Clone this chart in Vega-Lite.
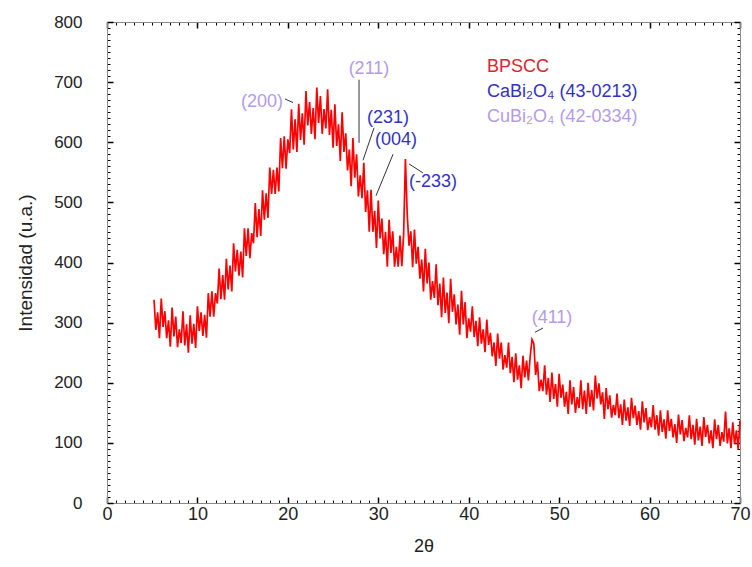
{
"$schema": "https://vega.github.io/schema/vega-lite/v6.json",
"width": 633, "height": 481,
"autosize": {"type": "none"},
"padding": {"left": 107, "top": 22, "right": 12, "bottom": 64},
"background": "white",
"config": {"view": {"stroke": "#000", "strokeWidth": 1}},
"datasets": {
"xrd": [
{"t":5.2,"i":338},{"t":5.4,"i":288},{"t":5.6,"i":317},{"t":5.8,"i":274},{"t":6.0,"i":340},{"t":6.2,"i":293},{"t":6.4,"i":319},{"t":6.6,"i":274},{"t":6.8,"i":304},{"t":7.0,"i":260},
{"t":7.2,"i":325},{"t":7.4,"i":277},{"t":7.6,"i":310},{"t":7.8,"i":259},{"t":8.0,"i":289},{"t":8.2,"i":266},{"t":8.4,"i":319},{"t":8.6,"i":262},{"t":8.8,"i":297},{"t":9.0,"i":250},
{"t":9.2,"i":312},{"t":9.4,"i":265},{"t":9.6,"i":298},{"t":9.8,"i":258},{"t":10.0,"i":327},{"t":10.2,"i":286},{"t":10.4,"i":317},{"t":10.6,"i":278},{"t":10.8,"i":313},{"t":11.0,"i":275},
{"t":11.2,"i":349},{"t":11.4,"i":310},{"t":11.6,"i":352},{"t":11.8,"i":310},{"t":12.0,"i":349},{"t":12.2,"i":332},{"t":12.4,"i":390},{"t":12.6,"i":339},{"t":12.8,"i":379},{"t":13.0,"i":338},
{"t":13.2,"i":406},{"t":13.4,"i":355},{"t":13.6,"i":395},{"t":13.8,"i":352},{"t":14.0,"i":432},{"t":14.2,"i":385},{"t":14.4,"i":421},{"t":14.6,"i":378},{"t":14.8,"i":418},{"t":15.0,"i":375},
{"t":15.2,"i":457},{"t":15.4,"i":411},{"t":15.6,"i":457},{"t":15.8,"i":407},{"t":16.0,"i":449},{"t":16.2,"i":432},{"t":16.4,"i":499},{"t":16.6,"i":442},{"t":16.8,"i":489},{"t":17.0,"i":444},
{"t":17.2,"i":520},{"t":17.4,"i":471},{"t":17.6,"i":515},{"t":17.8,"i":474},{"t":18.0,"i":558},{"t":18.2,"i":514},{"t":18.4,"i":554},{"t":18.6,"i":514},{"t":18.8,"i":558},{"t":19.0,"i":518},
{"t":19.2,"i":607},{"t":19.4,"i":557},{"t":19.6,"i":610},{"t":19.8,"i":556},{"t":20.0,"i":605},{"t":20.2,"i":582},{"t":20.4,"i":655},{"t":20.6,"i":588},{"t":20.8,"i":638},{"t":21.0,"i":584},
{"t":21.2,"i":664},{"t":21.4,"i":604},{"t":21.6,"i":648},{"t":21.8,"i":596},{"t":22.0,"i":685},{"t":22.2,"i":628},{"t":22.4,"i":667},{"t":22.6,"i":614},{"t":22.8,"i":657},{"t":23.0,"i":605},
{"t":23.2,"i":691},{"t":23.4,"i":632},{"t":23.6,"i":677},{"t":23.8,"i":614},{"t":24.0,"i":655},{"t":24.2,"i":623},{"t":24.4,"i":688},{"t":24.6,"i":612},{"t":24.8,"i":654},{"t":25.0,"i":591},
{"t":25.2,"i":663},{"t":25.4,"i":594},{"t":25.6,"i":630},{"t":25.8,"i":569},{"t":26.0,"i":650},{"t":26.2,"i":584},{"t":26.4,"i":615},{"t":26.6,"i":553},{"t":26.8,"i":588},{"t":27.0,"i":527},
{"t":27.2,"i":607},{"t":27.4,"i":541},{"t":27.6,"i":580},{"t":27.8,"i":510},{"t":28.0,"i":545},{"t":28.2,"i":507},{"t":28.4,"i":566},{"t":28.6,"i":484},{"t":28.8,"i":520},{"t":29.0,"i":451},
{"t":29.2,"i":521},{"t":29.4,"i":451},{"t":29.6,"i":486},{"t":29.8,"i":424},{"t":30.0,"i":503},{"t":30.2,"i":440},{"t":30.4,"i":473},{"t":30.6,"i":414},{"t":30.8,"i":451},{"t":31.0,"i":393},
{"t":31.2,"i":471},{"t":31.4,"i":416},{"t":31.6,"i":452},{"t":31.8,"i":393},{"t":32.0,"i":426},{"t":32.2,"i":393},{"t":32.4,"i":445},{"t":32.6,"i":394},{"t":32.8,"i":446},{"t":33.0,"i":572},
{"t":33.2,"i":480},{"t":33.4,"i":428},{"t":33.6,"i":452},{"t":33.8,"i":392},{"t":34.0,"i":455},{"t":34.2,"i":398},{"t":34.4,"i":426},{"t":34.6,"i":373},{"t":34.8,"i":405},{"t":35.0,"i":352},
{"t":35.2,"i":423},{"t":35.4,"i":365},{"t":35.6,"i":400},{"t":35.8,"i":338},{"t":36.0,"i":369},{"t":36.2,"i":341},{"t":36.4,"i":397},{"t":36.6,"i":329},{"t":36.8,"i":365},{"t":37.0,"i":309},
{"t":37.2,"i":375},{"t":37.4,"i":316},{"t":37.6,"i":350},{"t":37.8,"i":299},{"t":38.0,"i":373},{"t":38.2,"i":318},{"t":38.4,"i":347},{"t":38.6,"i":297},{"t":38.8,"i":330},{"t":39.0,"i":280},
{"t":39.2,"i":353},{"t":39.4,"i":297},{"t":39.6,"i":334},{"t":39.8,"i":274},{"t":40.0,"i":307},{"t":40.2,"i":285},{"t":40.4,"i":327},{"t":40.6,"i":276},{"t":40.8,"i":303},{"t":41.0,"i":261},
{"t":41.2,"i":309},{"t":41.4,"i":265},{"t":41.6,"i":289},{"t":41.8,"i":251},{"t":42.0,"i":305},{"t":42.2,"i":263},{"t":42.4,"i":283},{"t":42.6,"i":244},{"t":42.8,"i":267},{"t":43.0,"i":228},
{"t":43.2,"i":282},{"t":43.4,"i":240},{"t":43.6,"i":267},{"t":43.8,"i":222},{"t":44.0,"i":246},{"t":44.2,"i":225},{"t":44.4,"i":267},{"t":44.6,"i":216},{"t":44.8,"i":243},{"t":45.0,"i":201},
{"t":45.2,"i":249},{"t":45.4,"i":205},{"t":45.6,"i":229},{"t":45.8,"i":191},{"t":46.0,"i":245},{"t":46.2,"i":209},{"t":46.4,"i":237},{"t":46.6,"i":204},{"t":46.8,"i":244},{"t":47.0,"i":272},
{"t":47.2,"i":265},{"t":47.4,"i":213},{"t":47.6,"i":235},{"t":47.8,"i":186},{"t":48.0,"i":205},{"t":48.2,"i":186},{"t":48.4,"i":229},{"t":48.6,"i":180},{"t":48.8,"i":208},{"t":49.0,"i":168},
{"t":49.2,"i":217},{"t":49.4,"i":173},{"t":49.6,"i":198},{"t":49.8,"i":160},{"t":50.0,"i":215},{"t":50.2,"i":175},{"t":50.4,"i":197},{"t":50.6,"i":160},{"t":50.8,"i":185},{"t":51.0,"i":148},
{"t":51.2,"i":204},{"t":51.4,"i":164},{"t":51.6,"i":193},{"t":51.8,"i":150},{"t":52.0,"i":176},{"t":52.2,"i":158},{"t":52.4,"i":204},{"t":52.6,"i":156},{"t":52.8,"i":187},{"t":53.0,"i":148},
{"t":53.2,"i":200},{"t":53.4,"i":160},{"t":53.6,"i":188},{"t":53.8,"i":154},{"t":54.0,"i":212},{"t":54.2,"i":174},{"t":54.4,"i":199},{"t":54.6,"i":164},{"t":54.8,"i":184},{"t":55.0,"i":140},
{"t":55.2,"i":191},{"t":55.4,"i":156},{"t":55.6,"i":179},{"t":55.8,"i":142},{"t":56.0,"i":163},{"t":56.2,"i":146},{"t":56.4,"i":182},{"t":56.6,"i":141},{"t":56.8,"i":164},{"t":57.0,"i":130},
{"t":57.2,"i":172},{"t":57.4,"i":137},{"t":57.6,"i":159},{"t":57.8,"i":128},{"t":58.0,"i":175},{"t":58.2,"i":141},{"t":58.4,"i":162},{"t":58.6,"i":130},{"t":58.8,"i":153},{"t":59.0,"i":122},
{"t":59.2,"i":169},{"t":59.4,"i":134},{"t":59.6,"i":158},{"t":59.8,"i":121},{"t":60.0,"i":143},{"t":60.2,"i":126},{"t":60.4,"i":163},{"t":60.6,"i":122},{"t":60.8,"i":146},{"t":61.0,"i":112},
{"t":61.2,"i":154},{"t":61.4,"i":118},{"t":61.6,"i":139},{"t":61.8,"i":107},{"t":62.0,"i":154},{"t":62.2,"i":120},{"t":62.4,"i":140},{"t":62.6,"i":109},{"t":62.8,"i":131},{"t":63.0,"i":100},
{"t":63.2,"i":147},{"t":63.4,"i":114},{"t":63.6,"i":138},{"t":63.8,"i":103},{"t":64.0,"i":125},{"t":64.2,"i":109},{"t":64.4,"i":146},{"t":64.6,"i":106},{"t":64.8,"i":130},{"t":65.0,"i":97},
{"t":65.2,"i":140},{"t":65.4,"i":104},{"t":65.6,"i":127},{"t":65.8,"i":95},{"t":66.0,"i":143},{"t":66.2,"i":110},{"t":66.4,"i":130},{"t":66.6,"i":99},{"t":66.8,"i":121},{"t":67.0,"i":91},
{"t":67.2,"i":139},{"t":67.4,"i":106},{"t":67.6,"i":130},{"t":67.8,"i":95},{"t":68.0,"i":118},{"t":68.2,"i":102},{"t":68.4,"i":152},{"t":68.6,"i":99},{"t":68.8,"i":124},{"t":69.0,"i":91},
{"t":69.2,"i":134},{"t":69.4,"i":98},{"t":69.6,"i":121},{"t":69.8,"i":89},{"t":70.0,"i":137}
],
"ann": [
{"lbl":"(200)","t":17.14,"i":667,"c":"CuBi2O4"},
{"lbl":"(211)","t":28.97,"i":721,"c":"CuBi2O4"},
{"lbl":"(231)","t":31.07,"i":640,"c":"CaBi2O4"},
{"lbl":"(004)","t":31.96,"i":604,"c":"CaBi2O4"},
{"lbl":"(-233)","t":36.05,"i":534,"c":"CaBi2O4"},
{"lbl":"(411)","t":49.21,"i":308,"c":"CuBi2O4"}
],
"lead": [
{"t":19.68,"i":672,"t2":20.57,"i2":666},
{"t":27.87,"i":704,"t2":27.87,"i2":599},
{"t":29.53,"i":624,"t2":28.31,"i2":570},
{"t":31.63,"i":580,"t2":29.75,"i2":511},
{"t":33.40,"i":564,"t2":34.94,"i2":549},
{"t":47.33,"i":284,"t2":48.21,"i2":291}
],
"leg": [
{"lbl":"BPSCC","t":42.03,"i":725,"c":"BPSCC"},
{"lbl":"CaBi₂O₄ (43-0213)","t":42.03,"i":684,"c":"CaBi2O4"},
{"lbl":"CuBi₂O₄ (42-0334)","t":42.03,"i":642,"c":"CuBi2O4"}
]
},
"resolve": {"axis": {"x": "independent", "y": "independent"}},
"layer": [
{"data": {"name": "xrd"},
 "mark": {"type": "line", "color": "#ff0000", "strokeWidth": 1.7},
 "encoding": {
  "x": {"field": "t", "type": "quantitative", "scale": {"domain": [0, 70], "nice": false, "zero": false},
   "axis": {"orient": "bottom", "values": [0,10,20,30,40,50,60,70], "grid": false, "tickSize": -6, "tickColor": "black", "tickWidth": 1.5, "labelPadding": 8,
    "labelFontSize": 18, "labelColor": "#222", "labelFlush": false,
    "title": "2θ", "titleFontSize": 18, "titleFontWeight": "normal", "titleColor": "#222", "titlePadding": 14}},
  "y": {"field": "i", "type": "quantitative", "scale": {"domain": [0, 800], "nice": false},
   "axis": {"orient": "left", "values": [0,100,200,300,400,500,600,700,800], "grid": false, "tickSize": -6, "tickColor": "black", "tickWidth": 1.5, "labelPadding": 31,
    "labelFontSize": 17, "labelColor": "#222", "labelFlush": false,
    "title": "Intensidad (u.a.)", "titleFontSize": 19, "titleFontWeight": "normal", "titleColor": "#222", "titlePadding": 18}}
 }},
{"data": {"name": "xrd"},
 "mark": {"type": "point", "opacity": 0},
 "encoding": {
  "x": {"field": "t", "type": "quantitative", "axis": {"orient": "top", "values": [0,10,20,30,40,50,60,70], "grid": false, "tickSize": -6, "tickColor": "black", "tickWidth": 1.5, "labels": false, "title": null}},
  "y": {"field": "i", "type": "quantitative", "axis": {"orient": "right", "values": [0,100,200,300,400,500,600,700,800], "grid": false, "tickSize": -6, "tickColor": "black", "tickWidth": 1.5, "labels": false, "title": null}}
 }},
{"data": {"name": "xrd"},
 "mark": {"type": "point", "opacity": 0},
 "encoding": {
  "x": {"field": "t", "type": "quantitative", "axis": {"orient": "bottom", "tickCount": 70, "grid": false, "tickSize": -3, "tickColor": "black", "labels": false, "title": null}},
  "y": {"field": "i", "type": "quantitative", "axis": {"orient": "left", "tickCount": 80, "grid": false, "tickSize": -3, "tickColor": "black", "labels": false, "title": null}}
 }},
{"data": {"name": "xrd"},
 "mark": {"type": "point", "opacity": 0},
 "encoding": {
  "x": {"field": "t", "type": "quantitative", "axis": {"orient": "top", "tickCount": 70, "grid": false, "tickSize": -3, "tickColor": "black", "labels": false, "title": null}},
  "y": {"field": "i", "type": "quantitative", "axis": {"orient": "right", "tickCount": 80, "grid": false, "tickSize": -3, "tickColor": "black", "labels": false, "title": null}}
 }},
{"data": {"name": "lead"},
 "mark": {"type": "rule", "color": "#333", "strokeWidth": 1},
 "encoding": {
  "x": {"field": "t", "type": "quantitative", "axis": null},
  "y": {"field": "i", "type": "quantitative", "axis": null},
  "x2": {"field": "t2"},
  "y2": {"field": "i2"}
 }},
{"data": {"name": "ann"},
 "mark": {"type": "text", "fontSize": 18, "align": "center", "baseline": "middle"},
 "encoding": {
  "x": {"field": "t", "type": "quantitative", "axis": null},
  "y": {"field": "i", "type": "quantitative", "axis": null},
  "text": {"field": "lbl"},
  "color": {"field": "c", "type": "nominal", "scale": {"domain": ["BPSCC", "CaBi2O4", "CuBi2O4"], "range": ["#d9262b", "#3232c2", "#b49be8"]}, "legend": null}
 }},
{"data": {"name": "leg"},
 "mark": {"type": "text", "fontSize": 18, "align": "left", "baseline": "middle"},
 "encoding": {
  "x": {"field": "t", "type": "quantitative", "axis": null},
  "y": {"field": "i", "type": "quantitative", "axis": null},
  "text": {"field": "lbl"},
  "color": {"field": "c", "type": "nominal", "scale": {"domain": ["BPSCC", "CaBi2O4", "CuBi2O4"], "range": ["#d9262b", "#3232c2", "#b49be8"]}, "legend": null}
 }}
]
}
